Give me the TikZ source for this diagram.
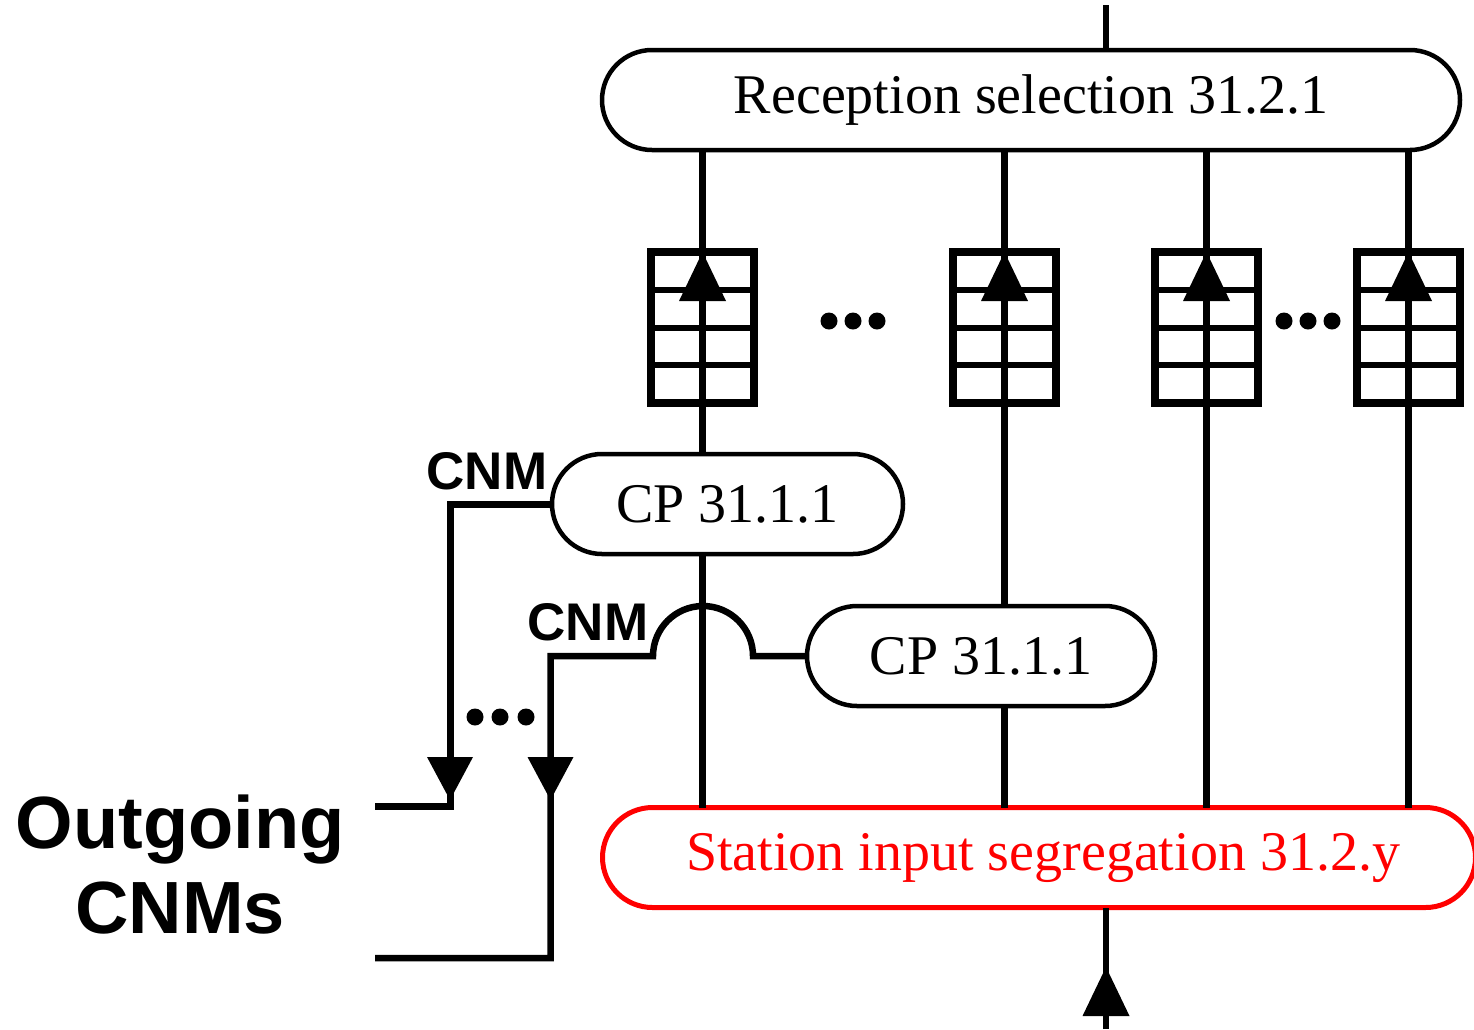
\documentclass[tikz,border=0pt]{standalone}
\usepackage{fontspec}
\setmainfont{Liberation Serif}
\newfontfamily\sansb{Liberation Sans}
\usetikzlibrary{calc}
\begin{document}
\begin{tikzpicture}[x=1pt,y=-1pt,
  procbox/.style={draw, line width=4.5pt, fill=white, rounded corners=50pt, minimum height=100pt, inner sep=0pt, outer sep=0pt, font=\fontsize{56}{60}\selectfont},
  queuebox/.style={draw, line width=8pt, minimum width=103pt, minimum height=151pt, inner sep=0pt, outer sep=0pt},
  wire/.style={line width=6.5pt},
  cnmwire/.style={line width=7pt},
  cnmlbl/.style={font=\sansb\bfseries\fontsize{53}{56}\selectfont, inner sep=0pt},
  biglbl/.style={font=\sansb\bfseries\fontsize{74}{85}\selectfont, inner sep=0pt, align=center},
  uptri/.pic={\fill (0,0) -- (23.5,49) -- (-23.5,49) -- cycle;},
  downtri/.pic={\fill (0,0) -- (23,-43) -- (-23,-43) -- cycle;},
]
\useasboundingbox (0,0) rectangle (1474,1029);
\clip (0,0) rectangle (1474,1029);

% main boxes
\node[procbox, minimum width=858pt] (rec) at (1031,100) {Reception selection 31.2.1};
\node[procbox, minimum width=351pt] (cp1) at (727.5,504) {CP 31.1.1};
\node[procbox, minimum width=348pt] (cp2) at (981,656) {CP 31.1.1};
\node[procbox, draw=red, text=red, line width=5pt, minimum width=873pt] (st) at (1039,857.5) {\hspace*{8pt}Station input segregation 31.2.y};

% queues
\node[queuebox] (q1) at (702.5,327.5) {};
\node[queuebox] (q2) at (1004.5,327.5) {};
\node[queuebox] (q3) at (1206.5,327.5) {};
\node[queuebox] (q4) at (1408.5,327.5) {};
\foreach \q in {q1,q2,q3,q4}{
  \foreach \k in {1,2,3}{
    \draw[line width=6pt] ($(\q.north west)!\k/4!(\q.south west)$) -- ($(\q.north east)!\k/4!(\q.south east)$);
  }
}

% column wires
\draw[wire] (q1 |- rec.south) -- (q1 |- cp1.north);
\draw[wire] (q1 |- cp1.south) -- (q1 |- st.north);
\draw[wire] (q2 |- rec.south) -- (q2 |- cp2.north);
\draw[wire] (q2 |- cp2.south) -- (q2 |- st.north);
\draw[wire] (q3 |- rec.south) -- (q3 |- st.north);
\draw[wire] (q4 |- rec.south) -- (q4 |- st.north);
\foreach \q in {q1,q2,q3,q4}{
  \pic at (\q.north) {uptri};
}

% input / output of whole block
\coordinate (intop) at (1106,5);
\coordinate (inbot) at (1106,1029);
\draw[wire] (intop) -- (intop |- rec.north);
\draw[wire] (inbot) -- (inbot |- st.south);
\pic at (1106,967) {uptri};

% dots
\foreach \x in {829,853,877,1284,1308,1332}{ \fill (\x,321) circle (8.5); }
\foreach \x in {475,500,526}{ \fill (\x,717) circle (8.5); }

% CNM paths
\coordinate (c1) at (450,806);
\coordinate (o1) at (375,806);
\draw[cnmwire] (cp1.west) -| (c1) -- (o1);
\pic at (450,800) {downtri};

\coordinate (hopR) at (753,656);
\coordinate (hopT) at (703,606);
\coordinate (hopL) at (653,656);
\coordinate (k2) at (550.5,958);
\coordinate (o2) at (375,958);
\draw[wire] (cp2.west) -- (hopR) .. controls +(0,-27.6) and +(27.6,0) .. (hopT) .. controls +(-27.6,0) and +(0,-27.6) .. (hopL) -| (k2) -- (o2);
\pic at (550.5,800) {downtri};

% labels
\node[cnmlbl] (cnm1) at (487,471) {CNM};
\node[cnmlbl] (cnm2) at (588,622) {CNM};
\node[biglbl] (outl) at (180,865) {Outgoing\\CNMs};
\end{tikzpicture}
\end{document}
